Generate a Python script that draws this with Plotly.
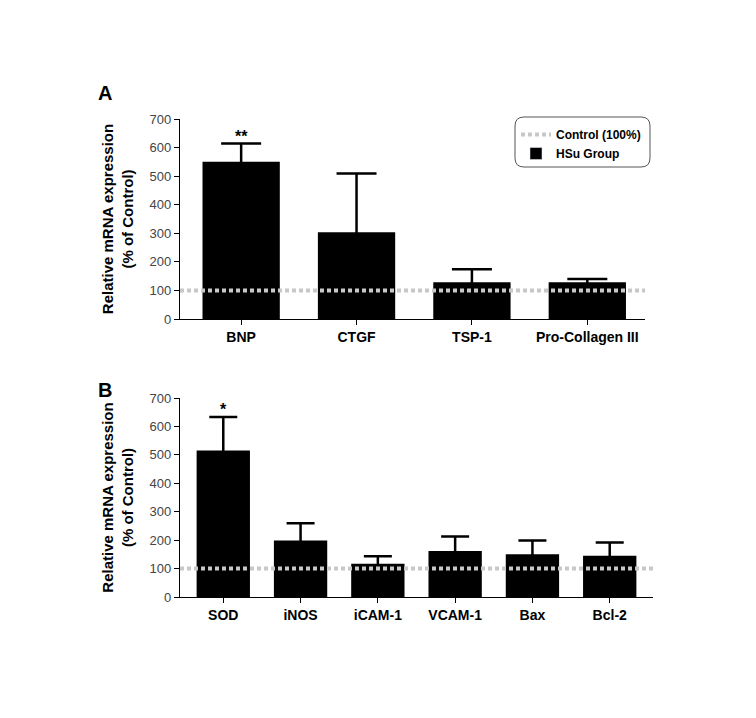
import plotly.graph_objects as go

# ---- data ----
cats_a = ["BNP", "CTGF", "TSP-1", "Pro-Collagen III"]
vals_a = [550, 304, 129, 129]
err_a = [64, 205, 45, 11]
sig_a = ["**", "", "", ""]

cats_b = ["SOD", "iNOS", "iCAM-1", "VCAM-1", "Bax", "Bcl-2"]
vals_b = [515, 199, 117, 162, 150, 145]
err_b = [118, 60, 26, 51, 49, 47]
sig_b = ["*", "", "", "", "", ""]

control_level = 100
y_ticks = [0, 100, 200, 300, 400, 500, 600, 700]

W, H = 756, 718

def px_x(p):
    return p / W

def px_y(p):
    return 1 - p / H

fig = go.Figure()

xr_a = [-0.53, 3.5]
xr_b = [-0.56, 5.56]

# panel A bars
fig.add_trace(go.Bar(
    x=list(range(len(cats_a))), y=vals_a, width=0.67,
    marker=dict(color="black", line=dict(width=0)),
    error_y=dict(type="data", array=err_a, symmetric=True,
                 color="black", thickness=2.5, width=20),
    name="HSu Group", xaxis="x", yaxis="y", showlegend=False,
))
fig.add_trace(go.Scatter(
    x=xr_a, y=[control_level, control_level], mode="lines",
    line=dict(color="#c8c8c8", width=4, dash="4px,3px"),
    name="Control (100%)", xaxis="x", yaxis="y", showlegend=True,
))
fig.add_trace(go.Bar(
    x=[None], y=[None], marker=dict(color="black"), name="HSu Group",
    xaxis="x", yaxis="y", showlegend=True,
))

# panel B bars
fig.add_trace(go.Bar(
    x=list(range(len(cats_b))), y=vals_b, width=0.69,
    marker=dict(color="black", line=dict(width=0)),
    error_y=dict(type="data", array=err_b, symmetric=True,
                 color="black", thickness=2.5, width=14),
    name="HSu Group", xaxis="x2", yaxis="y2", showlegend=False,
))
fig.add_trace(go.Scatter(
    x=xr_b, y=[control_level, control_level], mode="lines",
    line=dict(color="#c8c8c8", width=4, dash="4px,3px"),
    name="Control (100%)", xaxis="x2", yaxis="y2", showlegend=False,
))

tickfont = dict(family="Liberation Sans, Arial", size=13, color="#444")
xtickfont = dict(family="Liberation Sans, Arial", size=14, color="black", weight="bold")
titlefont = dict(family="Liberation Sans, Arial", size=15, color="black", weight="bold")

common_x = dict(showline=True, linecolor="black", linewidth=1.3, ticks="outside",
                ticklen=5, tickcolor="black", showgrid=False, zeroline=False,
                tickfont=xtickfont, automargin=False)
common_y = dict(showline=True, linecolor="black", linewidth=1.3, ticks="outside",
                ticklen=5, tickcolor="black", showgrid=False, zeroline=False,
                range=[0, 700], tickvals=y_ticks, tickfont=tickfont, automargin=False,
                title=dict(text="Relative mRNA expression<br>(% of Control)",
                           font=titlefont, standoff=12))

fig.update_layout(
    width=W, height=H, margin=dict(l=0, r=0, t=0, b=0),
    paper_bgcolor="white", plot_bgcolor="white", barmode="overlay",
    xaxis=dict(domain=[px_x(172), px_x(637)], anchor="y", range=xr_a,
               tickvals=list(range(len(cats_a))), ticktext=cats_a, **common_x),
    yaxis=dict(domain=[px_y(311), px_y(111)], anchor="x", **common_y),
    xaxis2=dict(domain=[px_x(172), px_x(645)], anchor="y2", range=xr_b,
                tickvals=list(range(len(cats_b))), ticktext=cats_b, **common_x),
    yaxis2=dict(domain=[px_y(589), px_y(390)], anchor="x2", **common_y),
    legend=dict(x=px_x(508), y=px_y(112), xanchor="left", yanchor="top",
                bgcolor="rgba(0,0,0,0)", borderwidth=0,
                font=dict(family="Liberation Sans, Arial", size=12, color="black", weight="bold"),
                itemwidth=30, tracegroupgap=2),
    showlegend=True,
)

# rounded legend box
x0, x1 = px_x(507), px_x(642)
yt, yb = px_y(109), px_y(159)
rx, ry = 9 / W, 9 / H
path = (f"M {x0+rx},{yt} L {x1-rx},{yt} Q {x1},{yt} {x1},{yt-ry} "
        f"L {x1},{yb+ry} Q {x1},{yb} {x1-rx},{yb} L {x0+rx},{yb} "
        f"Q {x0},{yb} {x0},{yb+ry} L {x0},{yt-ry} Q {x0},{yt} {x0+rx},{yt} Z")
fig.add_shape(type="path", path=path, xref="paper", yref="paper",
              line=dict(color="#555", width=1))

# significance stars
for i, s in enumerate(sig_a):
    if s:
        fig.add_annotation(x=i, y=vals_a[i] + err_a[i], xref="x", yref="y", text=s,
                           showarrow=False, yanchor="bottom", yshift=-3,
                           font=dict(family="Liberation Sans, Arial", size=16, color="black", weight="bold"))
for i, s in enumerate(sig_b):
    if s:
        fig.add_annotation(x=i, y=vals_b[i] + err_b[i], xref="x2", yref="y2", text=s,
                           showarrow=False, yanchor="bottom", yshift=-3,
                           font=dict(family="Liberation Sans, Arial", size=16, color="black", weight="bold"))

# panel letters
for letter, yy in [("A", 85), ("B", 382)]:
    fig.add_annotation(x=px_x(97), y=px_y(yy), xref="paper", yref="paper", text=letter,
                       showarrow=False, xanchor="center", yanchor="middle",
                       font=dict(family="Liberation Sans, Arial", size=20, color="black", weight="bold"))

fig.write_html("out.html")
